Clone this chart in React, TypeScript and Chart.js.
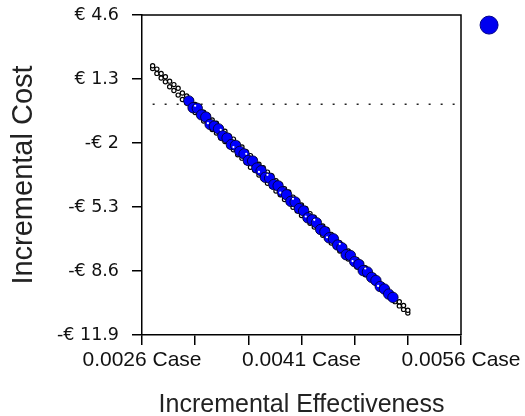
import { useEffect, useRef } from "react";
import { Chart, registerables } from "chart.js";

Chart.register(...registerables);

// Simulated ICER cloud: outline (edge) points, read along both edges of the band
const edgeEffectiveness = [
  0.0027, 0.00274, 0.00278, 0.00282, 0.00286, 0.0029, 0.00294, 0.00298, 0.00302, 0.00306,
  0.0031, 0.00314, 0.00318, 0.00322, 0.00326, 0.0033, 0.00334, 0.00338, 0.00342, 0.00346,
  0.0035, 0.00354, 0.00358, 0.00362, 0.00366, 0.0037, 0.00374, 0.00378, 0.00382, 0.00386,
  0.0039, 0.00394, 0.00398, 0.00402, 0.00406, 0.0041, 0.00414, 0.00418, 0.00422, 0.00426,
  0.0043, 0.00434, 0.00438, 0.00442, 0.00446, 0.0045, 0.00454, 0.00458, 0.00462, 0.00466,
  0.0047, 0.00474, 0.00478, 0.00482, 0.00486, 0.0049, 0.00494, 0.00498, 0.00502, 0.00506,
  0.0051,
];
const edgeCostUpper = [
  1.98, 1.81, 1.58, 1.42, 1.19, 1.01, 0.82, 0.58, 0.42, 0.23,
  -0.01, -0.17, -0.41, -0.57, -0.81, -0.98, -1.21, -1.39, -1.64, -1.8,
  -2.04, -2.21, -2.45, -2.65, -2.83, -3.09, -3.27, -3.5, -3.68, -3.94,
  -4.12, -4.35, -4.53, -4.79, -4.97, -5.2, -5.38, -5.64, -5.82, -6.05,
  -6.28, -6.46, -6.71, -6.9, -7.14, -7.33, -7.57, -7.76, -8.0, -8.19,
  -8.43, -8.65, -8.84, -9.08, -9.3, -9.49, -9.74, -9.94, -10.18, -10.38,
  -10.62,
];
const edgeCostLower = [
  1.84, 1.59, 1.35, 1.16, 0.9, 0.71, 0.47, 0.24, 0.06, -0.2,
  -0.43, -0.61, -0.87, -1.05, -1.31, -1.49, -1.74, -1.92, -2.17, -2.35,
  -2.61, -2.78, -3.01, -3.25, -3.41, -3.65, -3.84, -4.08, -4.24, -4.48,
  -4.67, -4.91, -5.07, -5.31, -5.5, -5.74, -5.9, -6.14, -6.33, -6.52,
  -6.76, -6.93, -7.16, -7.34, -7.57, -7.75, -7.98, -8.16, -8.39, -8.57,
  -8.79, -8.98, -9.17, -9.4, -9.58, -9.78, -10.0, -10.18, -10.4, -10.58,
  -10.77,
];

// Dense (blue) core of the cloud
const coreEffectiveness = [
  0.00304, 0.00308, 0.00312, 0.00316, 0.0032, 0.00324, 0.00328, 0.00332, 0.00336, 0.0034,
  0.00344, 0.00348, 0.00352, 0.00356, 0.0036, 0.00364, 0.00368, 0.00372, 0.00376, 0.0038,
  0.00384, 0.00388, 0.00392, 0.00396, 0.004, 0.00404, 0.00408, 0.00412, 0.00416, 0.0042,
  0.00424, 0.00428, 0.00432, 0.00436, 0.0044, 0.00444, 0.00448, 0.00452, 0.00456, 0.0046,
  0.00464, 0.00468, 0.00472, 0.00476, 0.0048, 0.00484, 0.00488, 0.00492, 0.00496,
];
const coreCost = [
  0.17, -0.18, -0.21, -0.55, -0.66, -1.04, -1.13, -1.27, -1.63, -1.74,
  -2.08, -2.12, -2.43, -2.56, -2.9, -2.93, -3.29, -3.43, -3.77, -3.81,
  -4.14, -4.21, -4.52, -4.67, -5.01, -5.04, -5.38, -5.5, -5.86, -5.96,
  -6.11, -6.46, -6.57, -6.89, -6.94, -7.26, -7.4, -7.76, -7.8, -8.12,
  -8.26, -8.58, -8.65, -8.93, -9.09, -9.4, -9.53, -9.79, -9.96,
];

// Light specks visible inside the dense core
const speckEffectiveness = [
  0.0031, 0.00322, 0.00334, 0.00346, 0.00358, 0.0037, 0.00378, 0.0039,
  0.00402, 0.00414, 0.00422, 0.00434, 0.00446, 0.00458, 0.0047, 0.00482,
];
const speckCost = [
  -0.08, -0.98, -1.32, -2.21, -2.56, -3.49, -3.64, -4.56,
  -4.88, -5.79, -5.96, -6.86, -7.2, -8.09, -8.47, -9.37,
];

// Zero-cost reference line
const zeroLineEffectiveness = [0.0027, 0.0056];
const zeroLineCost = [0, 0];

// Marker shown at top right (legend symbol)
const markerEffectiveness = [0.005864];
const markerCost = [4.08];

// Axes
const xMin = 0.0026;
const xMax = 0.0056;
const xTickValues = [0.0026, 0.0031, 0.0036, 0.0041, 0.0046, 0.0051, 0.0056];
const xTickLabels = ["0.0026 Case", "", "", "0.0041 Case", "", "", "0.0056 Case"];
const yMin = -11.9;
const yMax = 4.6;
const yTickValues = [4.6, 1.3, -2, -5.3, -8.6, -11.9];
const yTickLabels = ["€ 4.6", "€ 1.3", "-€ 2", "-€ 5.3", "-€ 8.6", "-€ 11.9"];

const xTitle = "Incremental Effectiveness";
const yTitle = "Incremental Cost";

const zip = (xs: number[], ys: number[]) => xs.map((x, i) => ({ x, y: ys[i] }));

const framePlugin = {
  id: "frame",
  afterDraw(chart: any) {
    const { ctx, chartArea } = chart;
    ctx.save();
    ctx.strokeStyle = "#000";
    ctx.lineWidth = 1.5;
    ctx.beginPath();
    ctx.moveTo(chartArea.left, chartArea.top);
    ctx.lineTo(chartArea.right, chartArea.top);
    ctx.lineTo(chartArea.right, chartArea.bottom);
    ctx.stroke();
    ctx.restore();
  },
};

// Draws the marker outside the plot area, positioned through the chart's scales
const markerPlugin = {
  id: "outsideMarker",
  afterDraw(chart: any) {
    const { ctx } = chart;
    const xs = chart.scales.x;
    const ys = chart.scales.y;
    ctx.save();
    markerEffectiveness.forEach((v, i) => {
      const px = xs.getPixelForValue(v);
      const py = ys.getPixelForValue(markerCost[i]);
      ctx.beginPath();
      ctx.arc(px, py, 9, 0, Math.PI * 2);
      ctx.fillStyle = "#0000f0";
      ctx.fill();
      ctx.lineWidth = 1;
      ctx.strokeStyle = "#00008b";
      ctx.stroke();
    });
    ctx.restore();
  },
};

export default function App() {
  const canvasRef = useRef<HTMLCanvasElement | null>(null);

  useEffect(() => {
    document.body.style.margin = "0";
    const canvas = canvasRef.current;
    if (!canvas) return;

    const chart = new Chart(canvas, {
      type: "scatter",
      data: {
        datasets: [
          {
            label: "specks",
            data: zip(speckEffectiveness, speckCost),
            pointRadius: 1.1,
            pointBackgroundColor: "#ffffff",
            pointBorderWidth: 0,
            order: 1,
          },
          {
            label: "core",
            data: zip(coreEffectiveness, coreCost),
            pointRadius: 5.2,
            pointBackgroundColor: "#0000ff",
            pointBorderColor: "#000020",
            pointBorderWidth: 0.8,
            order: 2,
          },
          {
            label: "edge upper",
            data: zip(edgeEffectiveness, edgeCostUpper),
            pointRadius: 2.1,
            pointBackgroundColor: "#ffffff",
            pointBorderColor: "#000000",
            pointBorderWidth: 1.2,
            order: 3,
          },
          {
            label: "edge lower",
            data: zip(edgeEffectiveness, edgeCostLower),
            pointRadius: 2.1,
            pointBackgroundColor: "#ffffff",
            pointBorderColor: "#000000",
            pointBorderWidth: 1.2,
            order: 3,
          },
          {
            label: "zero",
            data: zip(zeroLineEffectiveness, zeroLineCost),
            showLine: true,
            borderColor: "#222",
            borderWidth: 1.6,
            borderDash: [2, 10],
            pointRadius: 0,
            order: 5,
          } as any,
        ],
      },
      options: {
        animation: false,
        responsive: true,
        maintainAspectRatio: false,
        layout: { padding: { top: 15, right: 64, left: 0, bottom: 0 } },
        plugins: {
          legend: { display: false },
          tooltip: { enabled: false },
        },
        scales: {
          x: {
            type: "linear",
            min: xMin,
            max: xMax,
            afterBuildTicks: (scale: any) => {
              scale.ticks = xTickValues.map((v) => ({ value: v }));
            },
            afterFit: (scale: any) => {
              scale.height = 81;
              scale.paddingLeft = 0;
              scale.paddingRight = 0;
            },
            ticks: {
              autoSkip: false,
              maxRotation: 0,
              minRotation: 0,
              padding: 3,
              color: "#111",
              font: { family: "'Liberation Sans', Arial, sans-serif", size: 21 },
              callback: (_v: any, i: number) => xTickLabels[i],
            },
            grid: {
              drawOnChartArea: false,
              drawTicks: true,
              tickLength: 10,
              color: "#000",
              lineWidth: 1.5,
            },
            border: { display: true, color: "#000", width: 1.5 },
            title: {
              display: true,
              text: xTitle,
              color: "#222",
              font: { family: "'Liberation Sans', Arial, sans-serif", size: 25, lineHeight: 0.9 },
              padding: { top: 0, bottom: 0 },
            },
          },
          y: {
            type: "linear",
            min: yMin,
            max: yMax,
            afterBuildTicks: (scale: any) => {
              scale.ticks = yTickValues.map((v) => ({ value: v }));
            },
            afterFit: (scale: any) => {
              scale.width = 142;
              scale.paddingTop = 0;
              scale.paddingBottom = 0;
            },
            ticks: {
              autoSkip: false,
              padding: 13,
              color: "#111",
              font: { family: "'DejaVu Sans', sans-serif", size: 17.5 },
              callback: (_v: any, i: number) => yTickLabels[i],
            },
            grid: {
              drawOnChartArea: false,
              drawTicks: true,
              tickLength: 10,
              color: "#000",
              lineWidth: 1.5,
            },
            border: { display: true, color: "#000", width: 1.5 },
            title: {
              display: true,
              text: yTitle,
              color: "#222",
              font: { family: "'Liberation Sans', Arial, sans-serif", size: 29 },
              padding: { top: 7, bottom: 0 },
            },
          },
        },
      },
      plugins: [framePlugin, markerPlugin],
    });

    return () => chart.destroy();
  }, []);

  return (
    <div style={{ position: "fixed", left: 0, top: 0, width: 525, height: 416, background: "#fff" }}>
      <canvas ref={canvasRef} />
    </div>
  );
}
